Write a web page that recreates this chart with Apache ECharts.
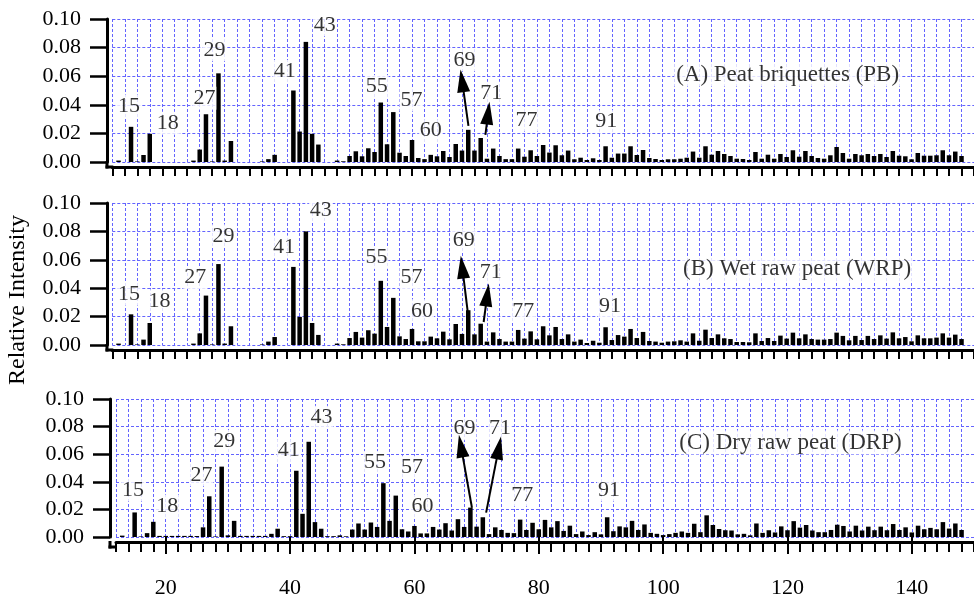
<!DOCTYPE html>
<html><head><meta charset="utf-8">
<script src="https://cdn.jsdelivr.net/npm/echarts@6/dist/echarts.min.js"></script>
<style>html,body{margin:0;padding:0;background:#fff}#c{width:974px;height:599px}</style>
</head><body><div id="c"></div>
<script>
// m/z values (categories)
const mz = [12,13,14,15,16,17,18,19,20,21,22,23,24,25,26,27,28,29,30,31,32,33,34,35,36,37,38,39,40,41,42,43,44,45,46,47,48,49,
50,51,52,53,54,55,56,57,58,59,60,61,62,63,64,65,66,67,68,69,70,71,72,73,74,75,76,77,78,79,80,81,82,83,84,85,86,87,88,89,
90,91,92,93,94,95,96,97,98,99,100,101,102,103,104,105,106,107,108,109,110,111,112,113,114,115,116,117,118,119,
120,121,122,123,124,125,126,127,128,129,130,131,132,133,134,135,136,137,138,139,140,141,142,143,144,145,146,147,148];

// (A) Peat briquettes
const PB = [
0,0.001,0,0.0246,0.0004,0.0049,0.0197,0,
0,0,0,0,0,0.001,0.0087,0.0334,0.0004,0.062,
0.001,0.0147,0,0,0,0,0.0004,0.002,0.005,0,
0,0.050,0.0213,0.084,0.0197,0.0122,0,0,0.001,0.0005,
0.0042,0.0075,0.004,0.0096,0.007,0.0416,0.0124,0.0349,0.0065,0.0042,
0.0154,0.0028,0.002,0.005,0.004,0.0077,0.0035,0.0126,0.008,0.0225,
0.008,0.0168,0.0023,0.0094,0.0042,0.002,0.002,0.0094,0.0037,0.0082,
0.0042,0.0119,0.0066,0.0117,0.0047,0.008,0.0019,0.003,0.0014,0.0026,
0.0014,0.011,0.003,0.0059,0.0059,0.011,0.0049,0.0084,0.0028,0.0021,
0.0014,0.0019,0.0019,0.0023,0.003,0.0073,0.003,0.011,0.0051,0.0077,
0.0056,0.0042,0.0023,0.0021,0.0014,0.007,0.0023,0.0051,0.0023,0.0056,
0.0035,0.0082,0.0037,0.0077,0.0042,0.0028,0.0023,0.0047,0.0105,0.0063,
0.0023,0.0056,0.0047,0.0056,0.0042,0.0056,0.0035,0.0077,0.0044,0.004,
0.0019,0.0063,0.0044,0.0044,0.0047,0.0082,0.0047,0.0073,0.0042];

// (B) Wet raw peat
const WRP = [
0,0.001,0,0.0216,0.0004,0.0038,0.0155,0,
0,0,0,0,0,0.001,0.0082,0.0348,0.0004,0.057,
0.001,0.0132,0,0,0,0,0.0004,0.0024,0.0056,0,
0,0.055,0.0198,0.080,0.0155,0.0071,0,0,0.001,0.0005,
0.0049,0.0092,0.0052,0.0104,0.008,0.0452,0.0127,0.0332,0.0061,0.0042,
0.0113,0.0026,0.0026,0.0059,0.0047,0.0094,0.004,0.0148,0.0078,0.0245,
0.0075,0.015,0.0024,0.0089,0.0042,0.0024,0.0024,0.0106,0.0045,0.0096,
0.004,0.0132,0.0068,0.0127,0.0042,0.0075,0.0024,0.0038,0.0014,0.003,
0.0016,0.0125,0.0035,0.007,0.0059,0.0113,0.0049,0.0092,0.0028,0.0024,
0.0016,0.0024,0.0026,0.0033,0.0024,0.0082,0.003,0.0108,0.0049,0.0075,
0.0047,0.0042,0.0021,0.0021,0.0019,0.0082,0.0028,0.0049,0.0028,0.0066,
0.0045,0.0087,0.0047,0.0075,0.0042,0.0038,0.0038,0.0042,0.0087,0.0064,
0.0033,0.0064,0.0035,0.0064,0.0042,0.0068,0.0045,0.0089,0.0047,0.0056,
0.0026,0.0068,0.0047,0.0047,0.0052,0.0082,0.0052,0.0073,0.0042];

// (C) Dry raw peat
const DRP = [
0,0.001,0,0.0178,0.0004,0.0028,0.011,0.0008,
0.0008,0.0008,0.0008,0.0008,0.0008,0.0007,0.007,0.0295,0.0004,0.051,
0.0012,0.0117,0.0008,0.0008,0.0008,0.0008,0.0008,0.0023,0.006,0.0006,
0.0006,0.048,0.0168,0.069,0.0108,0.006,0.0006,0.0006,0.0012,0.0005,
0.0054,0.0098,0.0054,0.0105,0.0073,0.039,0.0117,0.030,0.0056,0.004,
0.008,0.0026,0.0026,0.0073,0.0054,0.01,0.0047,0.0129,0.0073,0.0213,
0.0075,0.0143,0.0021,0.007,0.0051,0.003,0.0028,0.0126,0.0051,0.0103,
0.0056,0.0124,0.007,0.0115,0.0044,0.0082,0.0021,0.004,0.0014,0.0035,
0.0019,0.0143,0.0042,0.0077,0.007,0.0117,0.0051,0.0091,0.003,0.0023,
0.0014,0.0021,0.003,0.004,0.003,0.0096,0.0035,0.0157,0.0087,0.0058,
0.0049,0.0047,0.0019,0.0023,0.0012,0.0098,0.003,0.0049,0.0033,0.0077,
0.0049,0.0115,0.0068,0.0087,0.0047,0.0035,0.0035,0.0051,0.0089,0.008,
0.004,0.0082,0.0047,0.0075,0.0049,0.0075,0.0049,0.0094,0.0051,0.007,
0.0033,0.0082,0.0056,0.0066,0.0056,0.0108,0.0061,0.0098,0.0051];

const majorTicks = [20,40,60,80,100,120,140];
const panelNames = ['(A) Peat briquettes (PB)','(B) Wet raw peat (WRP)','(C) Dry raw peat (DRP)'];
const peakLabels = ['15','18','27','29','41','43','55','57','60','69','71','77','91'];
const yTitle = 'Relative Intensity';

// annotation anchors (data coordinates)
const labelAnchors = [
 [[14.66,0.0392],[20.9,0.0271],[26.75,0.0446],[28.35,0.0785],[39.6,0.0633],[46.03,0.096],[54.34,0.0528],[59.9,0.0434],[63.0,0.0219],[68.4,0.0715],[72.7,0.0481],[78.35,0.0294],[91.1,0.0282]],
 [[14.69,0.0358],[19.56,0.0311],[25.29,0.0475],[29.8,0.0768],[39.5,0.069],[45.4,0.095],[54.3,0.0616],[59.9,0.0475],[61.6,0.0241],[68.3,0.074],[72.6,0.051],[77.8,0.0241],[91.7,0.027]],
 [[14.75,0.0341],[20.23,0.0224],[25.74,0.0451],[29.4,0.0692],[39.77,0.0626],[45.06,0.0867],[53.65,0.054],[59.59,0.0505],[61.29,0.0224],[68.07,0.0785],[73.78,0.0785],[77.36,0.0306],[91.29,0.0341]]
];
const titleAnchors = [[101.9,0.0612],[103.0,0.0535],[102.2,0.0685]];
// arrows: [tail, head-centre]
const arrows = [
 [[[69.04,0.0252],[68.02,0.0568]], [[71.75,0.0189],[72.18,0.0342]]],
 [[[68.93,0.0232],[68.04,0.0549]], [[71.47,0.0162],[72.05,0.0352]]],
 [[[69.25,0.0212],[67.48,0.0659]], [[71.53,0.0177],[73.57,0.0646]]]
];

const FONT = 'Liberation Serif';
const TXT = '#000';
const GRIDC = '#6464ff';
const GRIDLINE = {color:GRIDC, type:[3,2], width:1, opacity:1};
const grids = [
 {left:112.3, top:19, width:867, height:143},
 {left:112.3, top:203, width:867, height:142},
 {left:116, top:399, width:867, height:143}
];
const yOffsets = [5.3, 5.3, 6];
const xOffset = 5;
const series = [PB, WRP, DRP];

const xAxis = [], yAxis = [], ser = [], graphic = [];
for (let i=0;i<3;i++){
  xAxis.push({type:'value', gridIndex:i, min:12, max:150, interval:2, position:'bottom', offset:xOffset,
    axisLine:{show:true, onZero:false, lineStyle:{color:'#000', width:3}},
    axisTick:{show:true, length: i===2?10:9, lineStyle:{color:'#000', width:2}},
    axisLabel:{show:false},
    splitLine:{show:true, lineStyle:GRIDLINE}});
  yAxis.push({type:'value', gridIndex:i, min:0, max:0.1, interval:0.02, offset: yOffsets[i],
    axisLine:{show:true, lineStyle:{color:'#000', width:3}},
    axisTick:{show:true, length:17, lineStyle:{color:'#000', width:2.5}},
    axisLabel:{formatter:v=>v.toFixed(2), fontSize:22, fontFamily:FONT, color:TXT, margin:26},
    splitLine:{show:true, lineStyle:GRIDLINE}});
  ser.push({type:'bar', xAxisIndex:i, yAxisIndex:i, barWidth:4.5, silent:true,
    itemStyle:{color:'#000'},
    data: mz.map((m,k)=>[m, series[i][k]]),
    markLine:{silent:true, symbol:['none','triangle'], symbolSize:[13,23], animation:false, z:5,
      label:{show:false}, lineStyle:{color:'#000', width:2, type:'solid'},
      data: arrows[i].map(a=>[{coord:a[0]},{coord:a[1]}])}});
  ser.push({type:'scatter', xAxisIndex:i, yAxisIndex:i, symbolSize:1, silent:true, z:4,
    itemStyle:{color:'rgba(0,0,0,0)'},
    data: peakLabels.map((t,k)=>({name:t, value:labelAnchors[i][k]})),
    label:{show:true, formatter:'{b}', position:'inside', fontSize:22, fontFamily:FONT, color:TXT,
      backgroundColor:'#fff', padding:[1,1,0,1]}});
  ser.push({type:'scatter', xAxisIndex:i, yAxisIndex:i, symbolSize:1, silent:true, z:4,
    itemStyle:{color:'rgba(0,0,0,0)'},
    data: [{name:panelNames[i], value:titleAnchors[i]}],
    label:{show:true, formatter:'{b}', position:'right', distance:0, fontSize:23, fontFamily:FONT, color:TXT,
      backgroundColor:'#fff', padding:[1,2,0,2]}});
  // close the corner between the offset axes
  const g = grids[i], ax = g.left - yOffsets[i], by = g.top + g.height;
  graphic.push({type:'line', silent:true, z:100, shape:{x1:ax, y1:by-1, x2:ax, y2:by+xOffset+1.5}, style:{stroke:'#000', lineWidth:3}});
  graphic.push({type:'line', silent:true, z:100, shape:{x1:ax-1.5, y1:by+xOffset, x2:g.left+1, y2:by+xOffset}, style:{stroke:'#000', lineWidth:3}});
}
xAxis.push({type:'value', gridIndex:2, min:12, max:150, position:'bottom', offset:xOffset,
  axisLine:{show:false},
  axisTick:{show:true, customValues:majorTicks, length:17, lineStyle:{color:'#000', width:2}},
  axisLabel:{show:true, customValues:majorTicks, margin:35, fontSize:22, fontFamily:FONT, color:TXT},
  splitLine:{show:false}});
graphic.push({type:'text', x:18, y:300, rotation:Math.PI/2, silent:true,
  style:{text:yTitle, font:'24px "Liberation Serif"', fill:TXT, textAlign:'center', textVerticalAlign:'middle'}});

const chart = echarts.init(document.getElementById('c'), null, {renderer:'canvas'});
chart.setOption({
  animation:false,
  backgroundColor:'#fff',
  grid: grids,
  xAxis, yAxis, series: ser,
  graphic
});
</script></body></html>
